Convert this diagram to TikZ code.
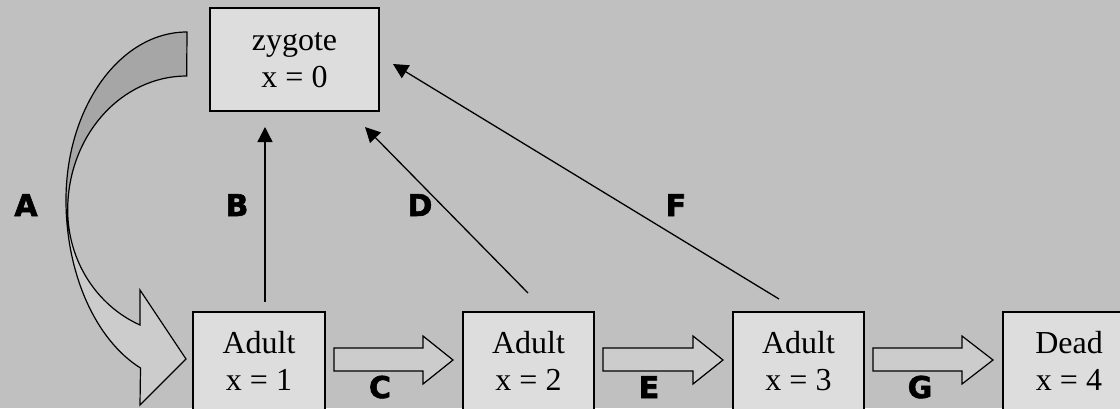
\documentclass[tikz,border=0pt]{standalone}
\usepackage{fontspec}
\setmainfont{Liberation Serif}
\newfontfamily\lblfont{DejaVu Sans}[BoldFeatures={FakeBold=2}]
\usetikzlibrary{arrows.meta,calc}
\definecolor{bgc}{HTML}{C0C0C0}
\definecolor{boxc}{HTML}{DDDDDD}
\definecolor{lightc}{HTML}{CCCCCC}
\definecolor{darkc}{HTML}{A6A6A6}
\tikzset{
  box/.style={draw=black, line width=1.2pt, fill=boxc, inner sep=0pt},
  txt/.style={font=\fontsize{32}{37}\selectfont, inner sep=0pt},
  lbl/.style={font=\lblfont\bfseries\fontsize{30}{35}\selectfont, inner sep=0pt},
  linearrow/.style={draw=black, line width=1.3pt, -{Triangle[length=15pt,width=15pt]}},
  blockarrow/.style={draw=black, line width=1.2pt, fill=lightc, line join=miter},
}
\begin{document}
\begin{tikzpicture}[x=1pt,y=1pt]
\useasboundingbox (0,0) rectangle (1120,408);
\clip (0,0) rectangle (1120,408);
\fill[bgc] (0,0) rectangle (1120,408);

% boxes
\node[box, minimum width=169pt, minimum height=103pt] (zyg) at (294.5,348.5) {};
\node[box, minimum width=132pt, minimum height=110pt] (ad1) at (259,41) {};
\node[box, minimum width=131pt, minimum height=110pt] (ad2) at (528.5,41) {};
\node[box, minimum width=131pt, minimum height=110pt] (ad3) at (798.5,41) {};
\node[box, minimum width=132pt, minimum height=110pt] (dead) at (1069,41) {};

% box texts
\node[txt, anchor=base] (zygT1) at (zyg.center |- 0,357) {zygote};
\node[txt, anchor=base] (zygT2) at (zyg.center |- 0,320) {x = 0};
\node[txt, anchor=base] (ad1T1) at (ad1.center |- 0,55) {Adult};
\node[txt, anchor=base] (ad1T2) at (ad1.center |- 0,18) {x = 1};
\node[txt, anchor=base] (ad2T1) at (ad2.center |- 0,55) {Adult};
\node[txt, anchor=base] (ad2T2) at (ad2.center |- 0,18) {x = 2};
\node[txt, anchor=base] (ad3T1) at (ad3.center |- 0,55) {Adult};
\node[txt, anchor=base] (ad3T2) at (ad3.center |- 0,18) {x = 3};
\node[txt, anchor=base] (deadT1) at (dead.center |- 0,55) {Dead};
\node[txt, anchor=base] (deadT2) at (dead.center |- 0,18) {x = 4};

% curved block arrow A
\fill[lightc] (187,376) arc[start angle=90, end angle=180, x radius=121, y radius=168]
  arc[start angle=180, end angle=247.4, x radius=121, y radius=182]
  -- (140,3) -- (186,49) -- (140,118) -- (140,83)
  arc[start angle=246.9, end angle=180, x radius=119, y radius=125]
  arc[start angle=180, end angle=90, x radius=119, y radius=134]
  -- cycle;
\fill[darkc] (187,376) arc[start angle=90, end angle=180, x radius=121, y radius=168]
  -- (68,198) arc[start angle=180, end angle=90, x radius=119, y radius=134] -- cycle;
\draw[line width=1.2pt, line join=miter] (187,376) arc[start angle=90, end angle=180, x radius=121, y radius=168]
  arc[start angle=180, end angle=247.4, x radius=121, y radius=182]
  -- (140,3) -- (186,49) -- (140,118) -- (140,83)
  arc[start angle=246.9, end angle=180, x radius=119, y radius=125]
  arc[start angle=180, end angle=90, x radius=119, y radius=134]
  -- cycle;

% straight block arrows C, E, G
\draw[blockarrow] (334,37) -- (423,37) -- (423,24) -- (453,48) -- (423,72) -- (423,60) -- (334,60) -- cycle;
\draw[blockarrow] (603,37) -- (693,37) -- (693,24) -- (723,48) -- (693,72) -- (693,60) -- (603,60) -- cycle;
\draw[blockarrow] (873,37) -- (962,37) -- (962,24) -- (993,48) -- (962,72) -- (962,60) -- (873,60) -- cycle;

% line arrows B, D, F
\coordinate (bS) at (265,106);
\coordinate (bE) at (265,281);
\coordinate (dS) at (528,115);
\coordinate (dE) at (365,281);
\coordinate (fS) at (779,109);
\coordinate (fE) at (393,344);
\draw[linearrow] (bS) -- (bE);
\draw[linearrow] (dS) -- (dE);
\draw[linearrow] (fS) -- (fE);

% labels
\node[lbl, anchor=base] (lA) at (26,192) {A};
\node[lbl, anchor=base] (lB) at (237,192) {B};
\node[lbl, anchor=base] (lD) at (420,192) {D};
\node[lbl, anchor=base] (lF) at (676,192) {F};
\node[lbl, anchor=base] (lC) at (380,10) {C};
\node[lbl, anchor=base] (lE) at (649,10) {E};
\node[lbl, anchor=base] (lG) at (920,10) {G};
\end{tikzpicture}
\end{document}
